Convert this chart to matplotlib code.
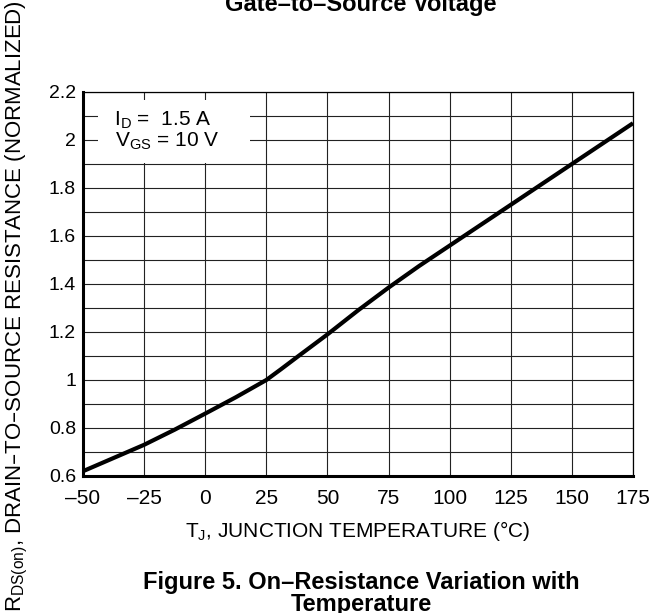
"""On-resistance vs junction temperature chart (normalized RDS(on))."""
import matplotlib
matplotlib.use("Agg")
import matplotlib.pyplot as plt
from matplotlib.patches import Rectangle

# Data
temp_c = [-50, -37.5, -25, -12.5, 0, 12.5, 25, 31, 37.5, 50, 62.5, 75,
          87.5, 100, 125, 150, 175]
rds_norm = [0.62, 0.675, 0.73, 0.793, 0.86, 0.928, 1.0, 1.045, 1.095, 1.19,
            1.29, 1.385, 1.475, 1.56, 1.73, 1.90, 2.07]

x_ticks = [-50, -25, 0, 25, 50, 75, 100, 125, 150, 175]
x_tick_labels = ["–50", "–25", "0", "25", "50", "75", "100", "125", "150", "175"]
y_ticks = [0.6, 0.8, 1.0, 1.2, 1.4, 1.6, 1.8, 2.0, 2.2]
y_tick_labels = ["0.6", "0.8", "1", "1.2", "1.4", "1.6", "1.8", "2", "2.2"]
y_minor = [0.7, 0.9, 1.1, 1.3, 1.5, 1.7, 1.9, 2.1]

cond_lines = [r"I$_{\mathregular{D}}$ =  1.5 A", r"V$_{\mathregular{GS}}$ = 10 V"]

plt.rcParams["font.family"] = ["Liberation Sans", "DejaVu Sans"]

W, H = 653, 613
fig = plt.figure(figsize=(W / 100, H / 100), dpi=100)
ax = fig.add_axes([83 / W, 1 - 476 / H, 550 / W, 384 / H])

ax.set_xlim(-50, 175)
ax.set_ylim(0.6, 2.2)
ax.set_xticks(x_ticks)
ax.set_xticklabels(x_tick_labels)
ax.set_yticks(y_ticks)
ax.set_yticklabels(y_tick_labels)
ax.set_yticks(y_minor, minor=True)
ax.tick_params(axis="both", which="both", length=0)
ax.tick_params(axis="x", labelsize=15, pad=9)
ax.tick_params(axis="y", labelsize=14, pad=5)

ax.set_axisbelow(True)
ax.grid(True, which="both", color="#222222", linewidth=0.8)

for side in ("left", "bottom"):
    ax.spines[side].set_linewidth(2.2)
for side in ("top", "right"):
    ax.spines[side].set_linewidth(0.9)

# white box behind the test conditions
ax.add_patch(Rectangle((-43.9, 1.905), 62.3, 0.262, facecolor="white",
                       edgecolor="none", zorder=1))
ax.text(-37.2, 2.06, cond_lines[0], fontsize=15, va="baseline", zorder=3)
ax.text(-36.9, 1.975, cond_lines[1], fontsize=15, va="baseline", zorder=3)

ax.plot(temp_c, rds_norm, color="black", linewidth=3, zorder=2,
        solid_capstyle="butt", solid_joinstyle="round")

ax.set_xlabel(r"T$_{\mathregular{J}}$, JUNCTION TEMPERATURE (°C)", fontsize=15,
              labelpad=8)
fig.text(17 / W, 1 - 306 / H,
         r"R$_{\mathregular{DS(on)}}$, DRAIN–TO–SOURCE RESISTANCE (NORMALIZED)",
         rotation=90, ha="center", va="center", fontsize=16)

fig.text(361 / W, 1 - 5 / H, "Gate–to–Source Voltage", fontsize=17,
         fontweight="bold", ha="center", va="center")
fig.text(361 / W, 1 - 582 / H, "Figure 5. On–Resistance Variation with",
         fontsize=17, fontweight="bold", ha="center", va="center")
fig.text(361 / W, 1 - 604 / H, "Temperature", fontsize=17,
         fontweight="bold", ha="center", va="center")

fig.savefig("out.png", dpi=100)
